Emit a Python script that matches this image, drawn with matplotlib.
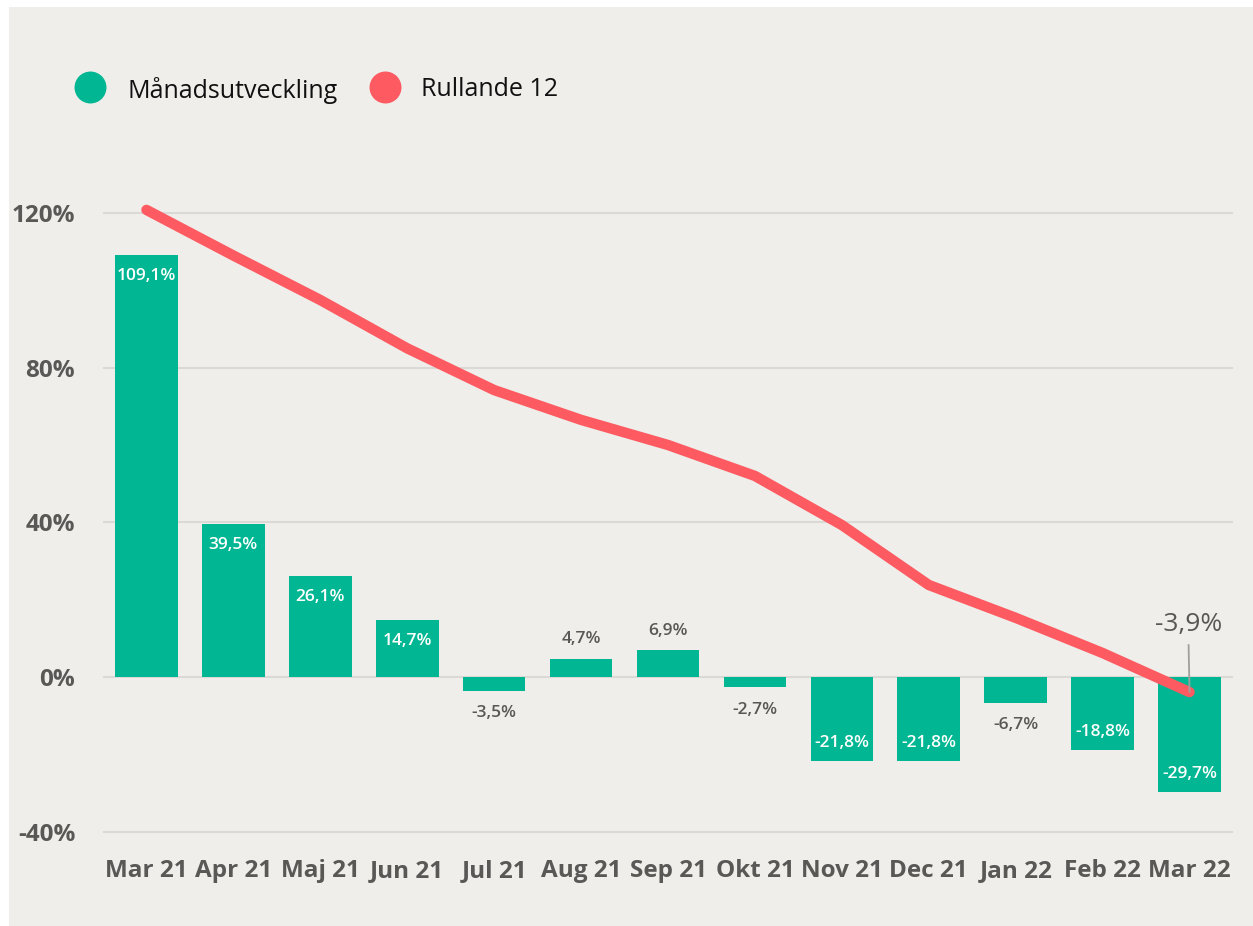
import matplotlib
matplotlib.use("Agg")
import matplotlib.pyplot as plt
from matplotlib.lines import Line2D
from matplotlib.patches import Rectangle

# data
months = ["Mar 21", "Apr 21", "Maj 21", "Jun 21", "Jul 21", "Aug 21", "Sep 21",
          "Okt 21", "Nov 21", "Dec 21", "Jan 22", "Feb 22", "Mar 22"]
monthly = [109.1, 39.5, 26.1, 14.7, -3.5, 4.7, 6.9, -2.7, -21.8, -21.8, -6.7, -18.8, -29.7]
rolling12 = [120.8, 109.0, 97.5, 85.0, 74.2, 66.5, 60.0, 52.0, 39.3, 23.8, 15.3, 6.2, -3.9]
yticks = [-40, 0, 40, 80, 120]

bar_color = "#01B692"
line_color = "#FD5A61"
bg = "#EFEEEA"
grey = "#5A5856"

plt.rcParams["font.family"] = ["Open Sans", "DejaVu Sans"]

W, H = 1253, 926
fig = plt.figure(figsize=(W / 100, H / 100), dpi=100, facecolor="white")
fig.add_artist(Rectangle((9 / W, 0), 1 - 9 / W, (H - 7) / H, transform=fig.transFigure,
                         facecolor=bg, edgecolor="none", zorder=-10))

ax = fig.add_axes([103 / W, (H - 851) / H, (1233 - 103) / W, (851 - 155) / H])
ax.set_facecolor("none")
x = list(range(len(months)))

ax.bar(x, monthly, width=0.72, color=bar_color, zorder=2)
ax.plot(x, rolling12, color=line_color, lw=7.5, solid_capstyle="round",
        solid_joinstyle="round", zorder=3)

ax.set_xlim(-0.5, 12.5)
ax.set_ylim(-45, 135)
ax.set_yticks(yticks)
ax.set_yticklabels([f"{t}%" for t in yticks])
ax.set_xticks(x)
ax.set_xticklabels(months)
ax.tick_params(length=0, colors=grey, labelsize=17.5)
ax.tick_params(axis="y", pad=20)
ax.tick_params(axis="x", pad=6)
for lab in ax.get_xticklabels() + ax.get_yticklabels():
    lab.set_fontweight("bold")
for s in ax.spines.values():
    s.set_visible(False)
for t in yticks:
    ax.axhline(t, color="#DAD9D6", lw=1.5, zorder=1)

# bar labels
for i, v in enumerate(monthly):
    txt = f"{v:.1f}%".replace(".", ",")
    if abs(v) >= 10:
        off = -15 if v > 0 else 13
        ax.annotate(txt, (i, v), xytext=(0, off), textcoords="offset points",
                    ha="center", va="center", color="white", fontsize=12.5,
                    fontweight="semibold", zorder=4)
    else:
        off = 14 if v > 0 else -16
        ax.annotate(txt, (i, v), xytext=(0, off), textcoords="offset points",
                    ha="center", va="center", color=grey, fontsize=12.5,
                    fontweight="semibold", zorder=4)

# last value callout on the rolling line
last = rolling12[-1]
ax.annotate(f"{last:.1f}%".replace(".", ","), (x[-1], last), xytext=(-1, 40),
            textcoords="offset points", ha="center", va="bottom", color=grey,
            fontsize=19, zorder=5,
            arrowprops=dict(arrowstyle="-", color="#A19F9D", lw=1.3,
                            shrinkA=4, shrinkB=0))

# legend
for cx, color, label, tx in [(90, bar_color, "Månadsutveckling", 127),
                             (385, line_color, "Rullande 12", 421)]:
    fig.add_artist(Line2D([cx / W], [(H - 87) / H], marker="o", markersize=23,
                          color=color, markeredgewidth=0, transform=fig.transFigure))
    fig.text(tx / W, (H - 87) / H, label, fontsize=18, color="#111111",
             va="center_baseline", ha="left")

fig.savefig("out.png", dpi=100, facecolor=fig.get_facecolor())
